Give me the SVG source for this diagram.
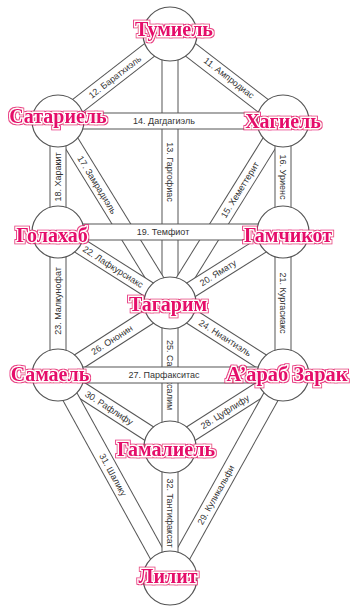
<svg xmlns="http://www.w3.org/2000/svg" width="350" height="606" viewBox="0 0 350 606">
<defs>
<style>
.b{stroke:#555;stroke-width:17;fill:none}
.f{stroke:#fff;stroke-width:15;fill:none}
.pl{font-family:"Liberation Sans","Open Sans",sans-serif;font-size:9px;fill:#333;text-anchor:middle}
.c{fill:#fff;stroke:#555;stroke-width:1.2}
.nl{font-family:"Liberation Serif","DejaVu Serif",serif;font-weight:bold;font-size:20px;fill:#e5106a;stroke:#fff;stroke-width:2.5;paint-order:stroke;text-anchor:middle;filter:url(#glow)}
</style>
<filter id="glow" x="-10%" y="-30%" width="120%" height="160%">
<feMorphology in="SourceAlpha" operator="dilate" radius="1" result="d"/>
<feFlood flood-color="#e5106a" flood-opacity="0.8"/>
<feComposite in2="d" operator="in" result="o"/>
<feMerge><feMergeNode in="o"/><feMergeNode in="SourceGraphic"/></feMerge>
</filter>
</defs>
<rect width="350" height="606" fill="#fff"/>
<g id="connectors">
<g id="p11"><line class="b" x1="170" y1="34" x2="283" y2="121"/><line class="f" x1="170" y1="34" x2="283" y2="121"/><text class="pl" transform="translate(229,78) rotate(37.6)" dy="3">11. Ампродиас</text></g>
<g id="p12"><line class="b" x1="58" y1="121" x2="170" y2="34"/><line class="f" x1="58" y1="121" x2="170" y2="34"/><text class="pl" transform="translate(115,77) rotate(-37.8)" dy="3">12. Баратхиэль</text></g>
<g id="p13"><line class="b" x1="170" y1="34" x2="170" y2="303"/><line class="f" x1="170" y1="34" x2="170" y2="303"/><text class="pl" transform="translate(170,172) rotate(90)" dy="3">13. Гаргофиас</text></g>
<g id="p15"><line class="b" x1="283" y1="121" x2="170" y2="303"/><line class="f" x1="283" y1="121" x2="170" y2="303"/><text class="pl" transform="translate(240,190) rotate(-58.2)" dy="3">15. Хеметтерит</text></g>
<g id="p16"><line class="b" x1="283" y1="121" x2="283" y2="232"/><line class="f" x1="283" y1="121" x2="283" y2="232"/><text class="pl" transform="translate(283,177) rotate(90)" dy="3">16. Уриенс</text></g>
<g id="p17"><line class="b" x1="58" y1="121" x2="170" y2="303"/><line class="f" x1="58" y1="121" x2="170" y2="303"/><text class="pl" transform="translate(97,185) rotate(58.4)" dy="3">17. Замрадиэль</text></g>
<g id="p18"><line class="b" x1="58" y1="121" x2="58" y2="232"/><line class="f" x1="58" y1="121" x2="58" y2="232"/><text class="pl" transform="translate(58,177) rotate(-90)" dy="3">18. Харакит</text></g>
<g id="p20"><line class="b" x1="170" y1="303" x2="283" y2="232"/><line class="f" x1="170" y1="303" x2="283" y2="232"/><text class="pl" transform="translate(218,273) rotate(-32.1)" dy="3">20. Ямату</text></g>
<g id="p21"><line class="b" x1="283" y1="232" x2="283" y2="375"/><line class="f" x1="283" y1="232" x2="283" y2="375"/><text class="pl" transform="translate(283,303) rotate(90)" dy="3">21. Кургасиакс</text></g>
<g id="p22"><line class="b" x1="58" y1="232" x2="170" y2="303"/><line class="f" x1="58" y1="232" x2="170" y2="303"/><text class="pl" transform="translate(113,267) rotate(32.4)" dy="3">22. Лафкурсиакс</text></g>
<g id="p23"><line class="b" x1="58" y1="232" x2="58" y2="375"/><line class="f" x1="58" y1="232" x2="58" y2="375"/><text class="pl" transform="translate(58,301) rotate(-90)" dy="3">23. Малкунофат</text></g>
<g id="p24"><line class="b" x1="170" y1="303" x2="283" y2="375"/><line class="f" x1="170" y1="303" x2="283" y2="375"/><text class="pl" transform="translate(225,338) rotate(32.5)" dy="3">24. Ниантиэль</text></g>
<g id="p25"><line class="b" x1="170" y1="303" x2="170" y2="447"/><line class="f" x1="170" y1="303" x2="170" y2="447"/><text class="pl" transform="translate(170,375) rotate(90)" dy="3">25. Саксаксалим</text></g>
<g id="p26"><line class="b" x1="58" y1="375" x2="170" y2="303"/><line class="f" x1="58" y1="375" x2="170" y2="303"/><text class="pl" transform="translate(112,340) rotate(-32.7)" dy="3">26. Ононин</text></g>
<g id="p28"><line class="b" x1="170" y1="447" x2="283" y2="375"/><line class="f" x1="170" y1="447" x2="283" y2="375"/><text class="pl" transform="translate(225,412) rotate(-32.5)" dy="3">28. Цуфлифу</text></g>
<g id="p29"><line class="b" x1="283" y1="375" x2="170" y2="578"/><line class="f" x1="283" y1="375" x2="170" y2="578"/><text class="pl" transform="translate(216,495) rotate(-60.9)" dy="3">29. Куликальфи</text></g>
<g id="p30"><line class="b" x1="58" y1="375" x2="170" y2="447"/><line class="f" x1="58" y1="375" x2="170" y2="447"/><text class="pl" transform="translate(109,408) rotate(32.7)" dy="3">30. Рафлифу</text></g>
<g id="p31"><line class="b" x1="58" y1="375" x2="170" y2="578"/><line class="f" x1="58" y1="375" x2="170" y2="578"/><text class="pl" transform="translate(113,475) rotate(61.1)" dy="3">31. Шалику</text></g>
<g id="p32"><line class="b" x1="170" y1="447" x2="170" y2="578"/><line class="f" x1="170" y1="447" x2="170" y2="578"/><text class="pl" transform="translate(170,513) rotate(90)" dy="3">32. Тантифаксат</text></g>
<g id="p14"><line class="b" x1="58" y1="121" x2="283" y2="121"/><line class="f" x1="58" y1="121" x2="283" y2="121"/><text class="pl" x="164" y="124">14. Дагдагиэль</text></g>
<g id="p19"><line class="b" x1="58" y1="232" x2="283" y2="232"/><line class="f" x1="58" y1="232" x2="283" y2="232"/><text class="pl" x="163" y="235">19. Темфиот</text></g>
<g id="p27"><line class="b" x1="58" y1="375" x2="283" y2="375"/><line class="f" x1="58" y1="375" x2="283" y2="375"/><text class="pl" x="164" y="378">27. Парфакситас</text></g>
</g>
<g id="n-tumiel"><circle class="c" cx="170" cy="34" r="27"/></g>
<g id="n-satariel"><circle class="c" cx="58" cy="121" r="26"/></g>
<g id="n-hagiel"><circle class="c" cx="283" cy="121" r="26"/></g>
<g id="n-golahab"><circle class="c" cx="58" cy="232" r="26"/></g>
<g id="n-gamchikot"><circle class="c" cx="283" cy="232" r="26"/></g>
<g id="n-tagarim"><circle class="c" cx="170" cy="303" r="26"/></g>
<g id="n-samael"><circle class="c" cx="58" cy="375" r="26"/></g>
<g id="n-aarab"><circle class="c" cx="283" cy="375" r="26"/></g>
<g id="n-gamaliel"><circle class="c" cx="170" cy="447" r="26"/></g>
<g id="n-lilit"><circle class="c" cx="170" cy="578" r="27"/></g>
<g id="node-labels">
<text class="nl" x="174" y="36">Тумиель</text>
<text class="nl" x="58" y="123">Сатариель</text>
<text class="nl" x="283" y="128">Хагиель</text>
<text class="nl" x="52" y="242">Голахаб</text>
<text class="nl" x="288" y="242">Гамчикот</text>
<text class="nl" x="168" y="311">Тагарим</text>
<text class="nl" x="50" y="381">Самаель</text>
<text class="nl" x="287" y="381" textLength="121" lengthAdjust="spacingAndGlyphs">А’араб Зарак</text>
<text class="nl" x="166" y="456">Гамалиель</text>
<text class="nl" x="168" y="583">Лилит</text>
</g>
</svg>
